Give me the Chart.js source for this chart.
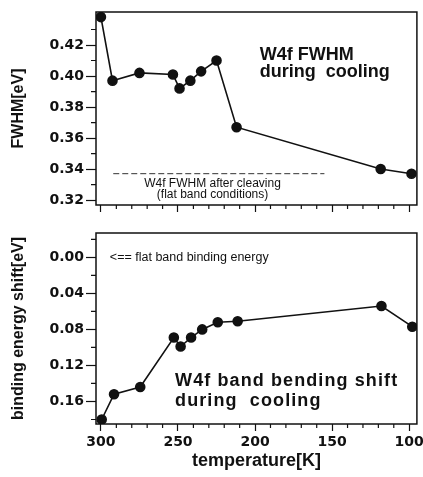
<!DOCTYPE html>
<html>
<head>
<meta charset="utf-8">
<script src="https://cdn.jsdelivr.net/npm/chart.js@4.4.1/dist/chart.umd.min.js"></script>
<style>
  html, body { margin: 0; padding: 0; background: #fff; }
  #wrap { position: relative; width: 423px; height: 477px; }
  canvas { position: absolute; left: 0; }
  #fwhmChart { top: 0; }
  #shiftChart { top: 222px; }
</style>
</head>
<body>
<div id="wrap">
  <canvas id="fwhmChart" width="423" height="222"></canvas>
  <canvas id="shiftChart" width="423" height="255"></canvas>
</div>
<script>
// W4f core level: linewidth and band bending shift vs. sample temperature
const tempsFwhm = [300, 292.5, 275, 253.3, 249, 242, 235, 225, 212, 118.5, 98.5];
const fwhm = [0.438, 0.397, 0.402, 0.401, 0.392, 0.397, 0.403, 0.410, 0.367, 0.340, 0.337];

const tempsShift = [299.5, 291.5, 274.5, 252.7, 248.3, 241.5, 234.3, 224.2, 211.3, 118, 98];
const shift = [0.180, 0.152, 0.144, 0.089, 0.099, 0.089, 0.080, 0.072, 0.071, 0.054, 0.077];

// FWHM measured right after cleaving (flat bands)
const cleaveTemps = [292, 155];
const cleaveFwhm = 0.337;

const tempTicks = [300, 250, 200, 150, 100];
const tempMinor = [290, 280, 270, 260, 240, 230, 220, 210, 190, 180, 170, 160, 140, 130, 120, 110];
const fwhmTicks = [0.32, 0.34, 0.36, 0.38, 0.40, 0.42];
const fwhmMinor = [0.33, 0.35, 0.37, 0.39, 0.41, 0.43];
const shiftTicks = [0.00, 0.04, 0.08, 0.12, 0.16];
const shiftMinor = [-0.02, 0.02, 0.06, 0.10, 0.14, 0.18];

const ink = '#111';
const tickFont = { family: 'DejaVu Sans', weight: 'bold', size: 14 };
const titleFont = { family: 'Liberation Sans', weight: 'bold', size: 16 };

// box around the plot area, minor tick marks and text notes
const framePlugin = {
  id: 'frame',
  afterDraw(chart, args, opts) {
    const { ctx, chartArea: a, scales } = chart;
    ctx.save();
    ctx.strokeStyle = ink;
    ctx.lineWidth = 1.5;
    ctx.strokeRect(a.left, a.top, a.right - a.left, a.bottom - a.top);

    ctx.lineWidth = 1.2;
    ctx.beginPath();
    opts.xMinor.forEach(v => {
      const x = scales.x.getPixelForValue(v);
      ctx.moveTo(x, a.bottom);
      ctx.lineTo(x, a.bottom + 4);
    });
    opts.yMinor.forEach(v => {
      const y = scales.y.getPixelForValue(v);
      ctx.moveTo(a.left, y);
      ctx.lineTo(a.left - 5, y);
    });
    ctx.stroke();

    ctx.fillStyle = ink;
    ctx.textBaseline = 'middle';
    opts.notes.forEach(n => {
      ctx.font = n.font;
      ctx.textAlign = n.align;
      ctx.letterSpacing = n.spacing || '0px';
      ctx.fillText(n.text, scales.x.getPixelForValue(n.x), scales.y.getPixelForValue(n.y));
    });
    ctx.restore();
  }
};

// keep the plot box at fixed edges (no room reserved for overhanging labels)
function fixBox(size, key) {
  return s => {
    s[key] = size;
    s.paddingLeft = s.paddingRight = s.paddingTop = s.paddingBottom = 0;
  };
}

function tempAxis(showLabels, height) {
  return {
    type: 'linear',
    reverse: true,
    min: 95,
    max: 303.2,
    afterFit: fixBox(height, 'height'),
    afterBuildTicks: s => { s.ticks = tempTicks.map(v => ({ value: v })); },
    grid: { drawOnChartArea: false, tickLength: 7, tickColor: ink, tickWidth: 1.2 },
    border: { display: false },
    ticks: { display: showLabels, font: tickFont, color: ink, padding: 3 },
    title: {
      display: showLabels,
      text: 'temperature[K]',
      font: { family: 'Liberation Sans', weight: 'bold', size: 18 },
      color: ink,
      padding: { top: 0, bottom: 5 }
    }
  };
}

function valueAxis(min, max, reverse, ticks, label) {
  return {
    min: min,
    max: max,
    reverse: reverse,
    afterFit: fixBox(96, 'width'),
    afterBuildTicks: s => { s.ticks = ticks.map(v => ({ value: v })); },
    grid: { drawOnChartArea: false, tickLength: 10, tickColor: ink, tickWidth: 1.2 },
    border: { display: false },
    ticks: { font: tickFont, color: ink, padding: 2, callback: v => v.toFixed(2) },
    title: { display: true, text: label, font: titleFont, color: ink, padding: { top: 9, bottom: 0 } }
  };
}

const lineStyle = {
  borderColor: ink,
  borderWidth: 1.6,
  pointRadius: 4.5,
  pointBackgroundColor: ink,
  pointBorderColor: ink,
  tension: 0
};

const bigText = 'bold 18px "Liberation Sans"';
const smallText = '12px "Liberation Sans"';

new Chart(document.getElementById('fwhmChart'), {
  type: 'line',
  data: {
    datasets: [
      Object.assign({ data: tempsFwhm.map((t, i) => ({ x: t, y: fwhm[i] })) }, lineStyle),
      {
        data: cleaveTemps.map(t => ({ x: t, y: cleaveFwhm })),
        borderColor: '#333',
        borderWidth: 1,
        borderDash: [6, 3],
        pointRadius: 0
      }
    ]
  },
  options: {
    responsive: false,
    animation: false,
    layout: { padding: { top: 12, right: 2, left: 0, bottom: 0 } },
    scales: {
      x: tempAxis(false, 17),
      y: valueAxis(0.3168, 0.4413, false, fwhmTicks, 'FWHM[eV]')
    },
    plugins: {
      legend: { display: false },
      tooltip: { enabled: false },
      frame: {
        xMinor: tempMinor,
        yMinor: fwhmMinor,
        notes: [
          { text: 'W4f FWHM', x: 197, y: 0.4135, font: bigText, align: 'left' },
          { text: 'during  cooling', x: 197, y: 0.4024, font: bigText, align: 'left' },
          { text: 'W4f FWHM after cleaving', x: 227.6, y: 0.3303, font: smallText, align: 'center' },
          { text: '(flat band conditions)', x: 227.6, y: 0.3232, font: smallText, align: 'center' }
        ]
      }
    }
  },
  plugins: [framePlugin]
});

new Chart(document.getElementById('shiftChart'), {
  type: 'line',
  data: {
    datasets: [
      Object.assign({ data: tempsShift.map((t, i) => ({ x: t, y: shift[i] })) }, lineStyle)
    ]
  },
  options: {
    responsive: false,
    animation: false,
    layout: { padding: { top: 11, right: 2, left: 0, bottom: 0 } },
    scales: {
      x: tempAxis(true, 53),
      y: valueAxis(-0.027, 0.185, true, shiftTicks, 'binding energy shift[eV]')
    },
    plugins: {
      legend: { display: false },
      tooltip: { enabled: false },
      frame: {
        xMinor: tempMinor,
        yMinor: shiftMinor,
        notes: [
          { text: '<== flat band binding energy', x: 294.2, y: 0.0, font: '12.5px "Liberation Sans"', align: 'left' },
          { text: 'W4f band bending shift', x: 251.9, y: 0.1378, font: bigText, align: 'left', spacing: '1.1px' },
          { text: 'during  cooling', x: 251.9, y: 0.16, font: bigText, align: 'left', spacing: '1.1px' }
        ]
      }
    }
  },
  plugins: [framePlugin]
});
</script>
</body>
</html>
